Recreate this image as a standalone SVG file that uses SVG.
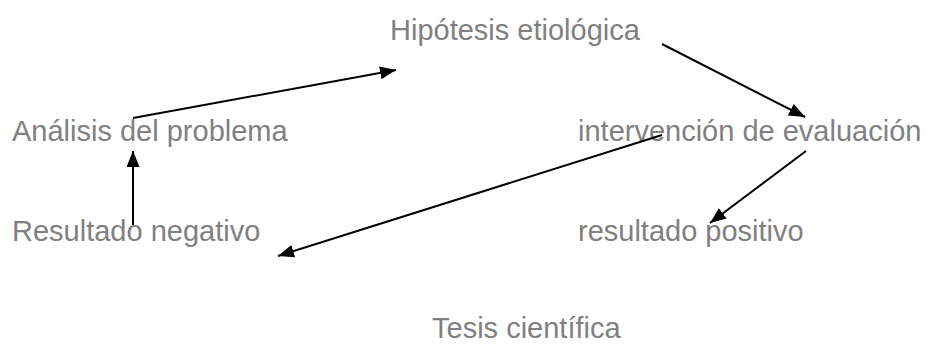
<svg xmlns="http://www.w3.org/2000/svg" width="927" height="345" viewBox="0 0 927 345">
<style>
text{font-family:"Liberation Sans",Arial,sans-serif;font-size:29px;fill:#808080}
.c line{stroke:#000;stroke-width:2;marker-end:url(#ah)}
</style>
<defs>
<marker id="ah" markerWidth="16" markerHeight="13" refX="16" refY="6.5" orient="auto" markerUnits="userSpaceOnUse">
<path d="M0,0 L16,6.5 L0,13 Z" fill="#000"/>
</marker>
</defs>
<rect width="927" height="345" fill="#fff"/>
<g id="hipotesis"><text x="390" y="40">Hipótesis etiológica</text></g>
<g id="analisis"><text x="12" y="141">Análisis del problema</text></g>
<g id="intervencion"><text x="578" y="141">intervención de evaluación</text></g>
<g id="negativo"><text x="12" y="241">Resultado negativo</text></g>
<g id="positivo"><text x="578" y="241">resultado positivo</text></g>
<g id="tesis"><text x="432" y="338">Tesis científica</text></g>
<g class="c" id="connectors">
<line x1="133" y1="118" x2="396" y2="70"/>
<line x1="662" y1="44" x2="805" y2="117"/>
<line x1="133" y1="225" x2="133" y2="151"/>
<line x1="662" y1="135" x2="278" y2="256"/>
<line x1="806" y1="151" x2="710" y2="223"/>
</g>
</svg>
